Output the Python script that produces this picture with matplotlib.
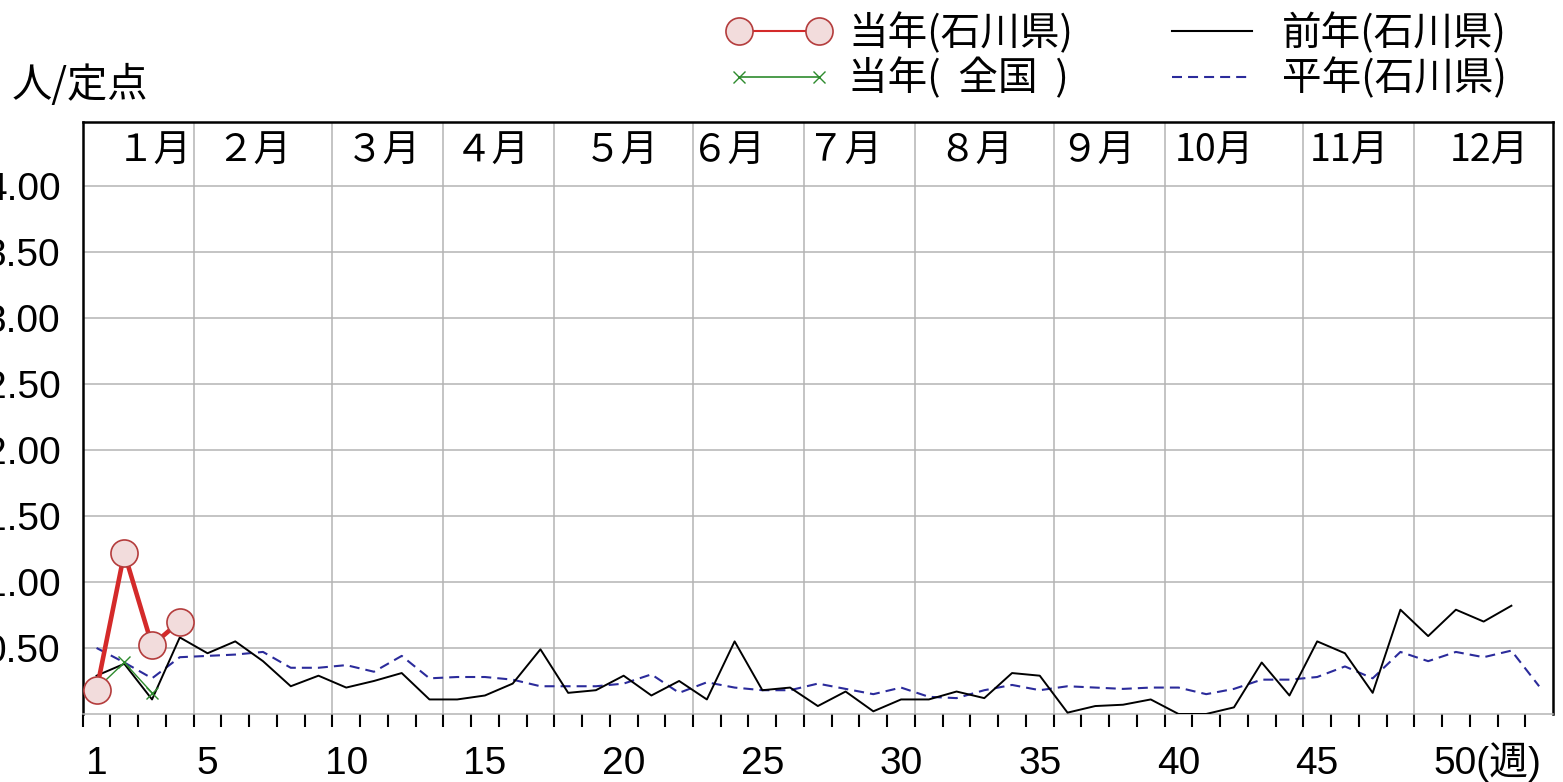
import matplotlib.pyplot as plt
from matplotlib.lines import Line2D
import matplotlib.transforms as mtransforms
import numpy as np

plt.rcParams['font.family'] = ['Noto Sans CJK JP', 'DejaVu Sans']

# current year (Ishikawa) and current year (nation), weeks 1-4
weeks_cur = [1, 2, 3, 4]
cur_pref = [0.18, 1.22, 0.52, 0.70]
weeks_nat = [1, 2, 3]
cur_nat = [0.19, 0.39, 0.16]

# previous year (Ishikawa), weeks 1-52
prev_pref = [0.29, 0.38, 0.11, 0.58, 0.46, 0.55, 0.40, 0.21, 0.29, 0.20,
             0.25, 0.31, 0.11, 0.11, 0.14, 0.23, 0.49, 0.16, 0.18, 0.29,
             0.14, 0.25, 0.11, 0.55, 0.18, 0.20, 0.06, 0.17, 0.02, 0.11,
             0.11, 0.17, 0.12, 0.31, 0.29, 0.01, 0.06, 0.07, 0.11, 0.00,
             0.00, 0.05, 0.39, 0.14, 0.55, 0.46, 0.16, 0.79, 0.59, 0.79,
             0.70, 0.82]

# normal year (Ishikawa), weeks 1-53
normal_pref = [0.50, 0.39, 0.27, 0.43, 0.44, 0.45, 0.47, 0.35, 0.35, 0.37,
               0.32, 0.44, 0.27, 0.28, 0.28, 0.26, 0.21, 0.21, 0.21, 0.23,
               0.30, 0.16, 0.24, 0.20, 0.18, 0.18, 0.23, 0.19, 0.15, 0.20,
               0.13, 0.12, 0.18, 0.22, 0.18, 0.21, 0.20, 0.19, 0.20, 0.20,
               0.15, 0.19, 0.26, 0.26, 0.28, 0.36, 0.27, 0.47, 0.40, 0.47,
               0.43, 0.48, 0.21]

month_labels = ['１月', '２月', '３月', '４月', '５月', '６月', '７月', '８月',
                '９月', '10月', '11月', '12月']
month_label_weeks = [3.09, 6.66, 11.34, 15.27, 19.9, 23.77, 27.95, 32.7,
                     37.1, 41.3, 46.15, 51.2]
month_edges = [4.5, 9.5, 13.5, 17.5, 22.5, 26.5, 30.5, 35.5, 39.5, 44.5, 48.5]

y_ticks = [0.5, 1.0, 1.5, 2.0, 2.5, 3.0, 3.5, 4.0]
x_tick_weeks = [1, 5, 10, 15, 20, 25, 30, 35, 40, 45]

red = '#d42a2a'
red_edge = '#b43c3c'
pink = '#f2dcdc'
green = '#2e8b2e'
blue = '#2b2b9b'
grid_c = '#b4b4b4'
num_font = ['Liberation Sans', 'DejaVu Sans']
jp_font = ['Noto Sans CJK JP', 'DejaVu Sans']
num_size = 28
num_pad = 23

fig = plt.figure(figsize=(15.63, 7.82), dpi=100)
ax = fig.add_axes([0.0529, 0.087, 0.9407, 0.757])

ax.set_xlim(0.5, 53.5)
ax.set_ylim(0, 4.485)

# grid: horizontal at ticks, vertical at month boundaries
ax.set_yticks(y_ticks)
ax.set_yticklabels([f'{v:.2f}' for v in y_ticks], family=num_font, fontsize=num_size)
ax.yaxis.grid(True, color=grid_c, linewidth=1.1)
for x in month_edges:
    ax.axvline(x, color=grid_c, linewidth=1.1, zorder=0.5)
ax.tick_params(axis='y', length=0, pad=16)

ax.set_xticks(x_tick_weeks)
ax.set_xticklabels([str(w) for w in x_tick_weeks], family=num_font, fontsize=num_size)
ax.set_xticks(np.arange(0.5, 53, 1), minor=True)
ax.tick_params(axis='x', which='major', length=0, pad=num_pad)
ax.tick_params(axis='x', which='minor', length=9.5, width=1.5, color='black')

# last week label with unit, put on the same baseline as the tick labels
base_off = num_pad + 0.729 * num_size
offset = mtransforms.ScaledTranslation(0, -base_off / 72, fig.dpi_scale_trans)
ax.text(49.2, 0, '50(週)', transform=ax.get_xaxis_transform() + offset,
        ha='left', va='baseline', fontsize=num_size, family=num_font[:1] + jp_font)

for s in ['left', 'top', 'right']:
    ax.spines[s].set_linewidth(1.8)
    ax.spines[s].set_color('black')
ax.spines['bottom'].set_color(grid_c)
ax.spines['bottom'].set_linewidth(1.1)

for lbl, w in zip(month_labels, month_label_weeks):
    ax.text(w, 4.265, lbl, ha='center', va='center', fontsize=27, family=jp_font)

dash = (0, (4.8, 2.9))
ax.plot(range(1, len(normal_pref) + 1), normal_pref, color=blue, lw=1.5,
        linestyle=dash, zorder=2)
ax.plot(range(1, len(prev_pref) + 1), prev_pref, color='black', lw=1.4, zorder=3)
ax.plot(weeks_nat, cur_nat, color=green, lw=1.0, marker='x', ms=8, mew=1.0, zorder=4)
ax.plot(weeks_cur, cur_pref, color=red, lw=3.3, marker='o', ms=19.5, mfc=pink,
        mec=red_edge, mew=1.2, zorder=5)

fig.text(0.0077, 0.891, '人/定点', ha='left', va='center', fontsize=29, family=jp_font)

handles = [
    Line2D([], [], color=red, lw=1.5, marker='o', ms=19.5, mfc=pink, mec=red_edge, mew=1.2),
    Line2D([], [], color=green, lw=1.2, marker='x', ms=8, mew=1.0),
    Line2D([], [], color='black', lw=1.5),
    Line2D([], [], color=blue, lw=1.5, linestyle=dash),
]
labels = ['当年(石川県)', '当年(  全国  )', '前年(石川県)', '平年(石川県)']
fig.legend(handles, labels, ncol=2, loc='upper left', bbox_to_anchor=(0.4651, 0.984),
           frameon=False, prop={'family': jp_font, 'size': 28.5}, numpoints=2,
           handlelength=2.62, handletextpad=0.45, columnspacing=2.2,
           labelspacing=0.1, borderpad=0, borderaxespad=0)

fig.savefig('out.png', dpi=100)
